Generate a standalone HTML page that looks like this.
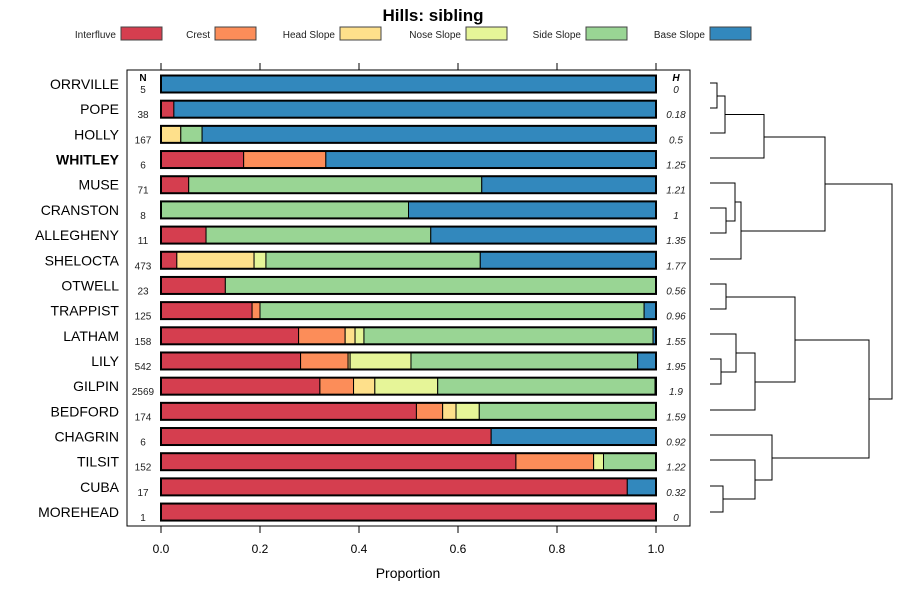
<!DOCTYPE html>
<html><head><meta charset="utf-8"><style>
body{margin:0;background:#fff;}
svg{display:block;font-family:"Liberation Sans",sans-serif;}
</style></head><body>
<svg id="chart" width="900" height="600">
  <text x="433" y="21" text-anchor="middle" font-size="17" font-weight="bold">Hills: sibling</text>
  <g id="legend"></g>
  <rect x="127" y="70" width="563" height="456" fill="none" stroke="#000" stroke-width="1"/>
  <g id="bars"></g>
  <g id="axis"></g>
  <text x="408" y="578" text-anchor="middle" font-size="14">Proportion</text>
  <text x="143" y="81" text-anchor="middle" font-size="10" font-weight="bold">N</text>
  <text x="676" y="81" text-anchor="middle" font-size="10" font-weight="bold" font-style="italic">H</text>
  <g id="dendro" fill="none" stroke="#000" stroke-width="1"></g>
</svg>
<script>
const categories = ["Interfluve","Crest","Head Slope","Nose Slope","Side Slope","Base Slope"];
const colors = ["#d53e4f","#fc8d59","#fee08b","#e6f598","#99d594","#3288bd"];
const series = ["ORRVILLE","POPE","HOLLY","WHITLEY","MUSE","CRANSTON","ALLEGHENY","SHELOCTA","OTWELL","TRAPPIST","LATHAM","LILY","GILPIN","BEDFORD","CHAGRIN","TILSIT","CUBA","MOREHEAD"];
const nValues = [5,38,167,6,71,8,11,473,23,125,158,542,2569,174,6,152,17,1];
const hValues = ["0","0.18","0.5","1.25","1.21","1","1.35","1.77","0.56","0.96","1.55","1.95","1.9","1.59","0.92","1.22","0.32","0"];
const interfluve = [0,0.026,0,0.167,0.056,0,0.091,0.032,0.130,0.184,0.278,0.282,0.321,0.516,0.667,0.717,0.942,1];
const crest      = [0,0,0,0.166,0,0,0,0,0,0.016,0.094,0.096,0.068,0.053,0,0.157,0,0];
const headSlope  = [0,0,0.040,0,0,0,0,0.156,0,0,0.020,0.004,0.043,0.027,0,0,0,0];
const noseSlope  = [0,0,0,0,0,0,0,0.024,0,0,0.018,0.123,0.127,0.047,0,0.020,0,0];
const sideSlope  = [0,0,0.043,0,0.592,0.500,0.454,0.433,0.870,0.776,0.584,0.458,0.439,0.357,0,0.106,0,0];
const baseSlope  = [1,0.974,0.917,0.667,0.352,0.500,0.455,0.355,0,0.024,0.006,0.037,0.002,0,0.333,0,0.058,0];
const xTicks = [0,0.2,0.4,0.6,0.8,1.0];
const xTickLabels = ["0.0","0.2","0.4","0.6","0.8","1.0"];

const NS="http://www.w3.org/2000/svg";
function mk(tag, attrs, parent){const e=document.createElementNS(NS,tag);for(const k in attrs)e.setAttribute(k,attrs[k]);parent.appendChild(e);return e;}
const xScale = v => 161 + v*495;
const yScale = i => 84 + i*25.18;
const barH = 17;

// legend
const legend=document.getElementById('legend');
const legBoxX=[121,215,340,466,586,710];
categories.forEach((c,i)=>{
  const t=mk('text',{x:legBoxX[i]-5,y:38,'text-anchor':'end','font-size':'10',fill:'#222'},legend);
  t.textContent=c;
  
  
  const r=mk('rect',{x:legBoxX[i],y:27,width:41,height:13,fill:colors[i],stroke:'#444','stroke-width':1},legend);
  
  
});

// bars
const bars=document.getElementById('bars');
const comps=[interfluve,crest,headSlope,noseSlope,sideSlope,baseSlope];
series.forEach((name,i)=>{
  const y=yScale(i);
  const lab=mk('text',{x:119,y:y+5,'text-anchor':'end','font-size':'14','font-weight':name==='WHITLEY'?'bold':'normal'},bars);
  lab.textContent=name;
  
  
  const n=mk('text',{x:143,y:y+9,'text-anchor':'middle','font-size':'10',fill:'#222'},bars);
  n.textContent=nValues[i];
  
  
  const h=mk('text',{x:676,y:y+9,'text-anchor':'middle','font-size':'10','font-style':'italic',fill:'#222'},bars);
  h.textContent=hValues[i];
  
  
  let acc=0;
  comps.forEach((arr,k)=>{
    const v=arr[i];
    if(v<=0)return;
    const r=mk('rect',{x:xScale(acc),y:y-barH/2,width:v*495,height:barH,fill:colors[k],stroke:'#000','stroke-width':1},bars);
    
    
    acc+=v;
  });
  const o=mk('rect',{x:xScale(0),y:y-barH/2,width:495,height:barH,fill:'none',stroke:'#000','stroke-width':2},bars);
  
  
});

// axis
const axis=document.getElementById('axis');
xTicks.forEach((t,i)=>{
  const x=xScale(t);
  const l1=mk('line',{x1:x,x2:x,y1:526,y2:533,stroke:'#000'},axis);
  
  
  const l2=mk('line',{x1:x,x2:x,y1:63,y2:70,stroke:'#000'},axis);
  
  
  const tx=mk('text',{x:x,y:553,'text-anchor':'middle','font-size':'12'},axis);
  tx.textContent=xTickLabels[i];
  
  
});

// dendrogram (merge structure: [height-x, y-low, y-high] in pixels)
const dendro=document.getElementById('dendro');
const leafX=710;
const segs=[
 // [xMerge, y1, x1start, y2, x2start]
 [717,83,leafX,108,leafX],
 [725,96,717,133,leafX],
 [764,114.5,725,158,leafX],
 [726,208,leafX,233,leafX],
 [735,183,leafX,221,726],
 [741,202,735,259,leafX],
 [825,137,764,231,741],
 [726,284,leafX,309,leafX],
 [721,359,leafX,384,leafX],
 [736,334,leafX,372,721],
 [755,353,736,410,leafX],
 [795,297,726,382,755],
 [723,486,leafX,512,leafX],
 [755,460,leafX,499,723],
 [772,435,leafX,480,755],
 [869,340,795,458,772],
 [892,184,825,399,869]
];
segs.forEach(s=>{
  const p=mk('path',{d:`M${s[2]},${s[1]}H${s[0]}V${s[3]}H${s[4]}`},dendro);
  
  
});
</script>
</body></html>
